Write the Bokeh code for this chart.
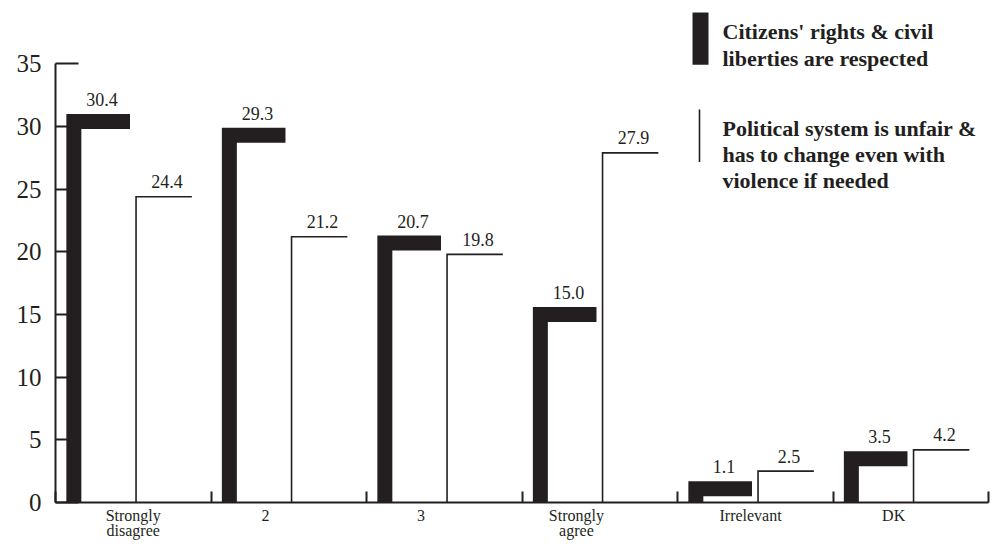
from bokeh.plotting import figure
from bokeh.models import Range1d, FixedTicker, ColumnDataSource
from bokeh.core.properties import value
from bokeh.embed import file_html
from bokeh.resources import INLINE

# ---------------- data ----------------
categories = ["Strongly\ndisagree", "2", "3", "Strongly\nagree", "Irrelevant", "DK"]
rights_respected = [30.4, 29.3, 20.7, 15.0, 1.1, 3.5]
system_unfair = [24.4, 21.2, 19.8, 27.9, 2.5, 4.2]
y_ticks = [0, 5, 10, 15, 20, 25, 30, 35]
legend_lines_1 = ["Citizens' rights & civil", "liberties are respected"]
legend_lines_2 = ["Political system is unfair &", "has to change even with", "violence if needed"]

# ---------------- layout / style ----------------
INK = "#231f20"
FONT = "Liberation Serif"
W, H = 991, 541
LEFT = 55
FRAME_W, FRAME_H = W - LEFT, 507
PX_PER_CAT = 155.5          # horizontal pixels per category
PX_PER_UNIT = 443 / 35      # vertical pixels per percentage point
X0, Y0 = LEFT, FRAME_H      # canvas position of the data origin
label_pos = [0.5, 1.35, 2.35, 3.35, 4.47, 5.39]   # category label anchors
S1_L, S1_R = 0.118, 0.479   # thick bar: left stroke centre / right end within category
S2_L, S2_R = 0.518, 0.877   # thin bar
S1_W, S2_W = 15, 1.6

def px_x(cx):   # canvas pixel -> data x
    return (cx - X0) / PX_PER_CAT

def px_y(cy):   # canvas pixel -> data y
    return (Y0 - cy) / PX_PER_UNIT

p = figure(width=W, height=H,
           x_range=Range1d(0, FRAME_W / PX_PER_CAT), y_range=Range1d(0, FRAME_H / PX_PER_UNIT),
           output_backend="svg", toolbar_location=None,
           min_border_left=LEFT, min_border_right=0, min_border_top=0, min_border_bottom=H - FRAME_H)
p.xgrid.visible = False
p.ygrid.visible = False
p.outline_line_color = None
p.background_fill_color = "white"

# ---------------- bars drawn as L-shaped strokes ----------------
n = len(categories)
xs1 = [[i + S1_L, i + S1_L, i + S1_R] for i in range(n)]
ys1 = [[0, v, v] for v in rights_respected]
xs2 = [[i + S2_L, i + S2_L, i + S2_R] for i in range(n)]
ys2 = [[0, v, v] for v in system_unfair]
p.multi_line(xs=xs1, ys=ys1, line_color=INK, line_width=S1_W, line_join="miter", line_cap="butt")
p.multi_line(xs=xs2, ys=ys2, line_color=INK, line_width=S2_W, line_join="miter", line_cap="butt")

# value labels
src1 = ColumnDataSource(dict(x=[i + (S1_L + S1_R) / 2 for i in range(n)], y=rights_respected,
                             t=[f"{v:.1f}" for v in rights_respected]))
src2 = ColumnDataSource(dict(x=[i + (S2_L + S2_R) / 2 + 0.02 for i in range(n)], y=system_unfair,
                             t=[f"{v:.1f}" for v in system_unfair]))
p.text(x="x", y="y", text="t", source=src1, y_offset=-22, text_align="center",
       text_baseline="alphabetic", text_font=value(FONT), text_font_size="18px", text_color=INK)
p.text(x="x", y="y", text="t", source=src2, y_offset=-15, text_align="center",
       text_baseline="alphabetic", text_font=value(FONT), text_font_size="18px", text_color=INK)

# ---------------- legend ----------------
LEG_X = px_x(722)
p.quad(left=px_x(692), right=px_x(708), top=px_y(12), bottom=px_y(65),
       fill_color=INK, line_color=None)
p.segment(x0=px_x(699), x1=px_x(699), y0=px_y(110), y1=px_y(163),
          line_color=INK, line_width=1.6)
base1 = [31, 59]
base2 = [129, 155.5, 182]
p.text(x=[LEG_X] * 2, y=[px_y(b) for b in base1], text=legend_lines_1,
       text_font=value(FONT), text_font_style="bold", text_font_size="22px",
       text_baseline="alphabetic", text_color=INK)
p.text(x=[LEG_X] * 3, y=[px_y(b) for b in base2], text=legend_lines_2,
       text_font=value(FONT), text_font_style="bold", text_font_size="22px",
       text_baseline="alphabetic", text_color=INK)

# ---------------- axes ----------------
for ax in (p.xaxis[0], p.yaxis[0]):
    ax.axis_line_color = INK
    ax.axis_line_width = 2
    ax.major_tick_line_color = INK
    ax.major_tick_line_width = 2
    ax.minor_tick_line_color = INK
    ax.minor_tick_line_width = 2
    ax.major_label_text_font = FONT
    ax.major_label_text_color = INK

p.yaxis.ticker = FixedTicker(ticks=y_ticks)
p.yaxis.bounds = (0, 35)
p.yaxis.major_tick_in = 23
p.yaxis.major_tick_out = 0
p.yaxis.minor_tick_in = 0
p.yaxis.minor_tick_out = 0
p.yaxis.major_label_standoff = 14
p.yaxis.major_label_text_font_size = "25px"

p.xaxis.ticker = FixedTicker(ticks=label_pos, minor_ticks=list(range(n + 1)))
p.xaxis.bounds = (0, n)
p.xaxis.major_label_overrides = {pos: c for pos, c in zip(label_pos, categories)}
p.xaxis.major_tick_in = 0
p.xaxis.major_tick_out = 0
p.xaxis.minor_tick_in = 11
p.xaxis.minor_tick_out = 0
p.xaxis.major_label_standoff = 4
p.xaxis.major_label_text_font_size = "16px"
p.xaxis.major_label_text_line_height = 0.9

open("out.html", "w").write(file_html(p, INLINE))
